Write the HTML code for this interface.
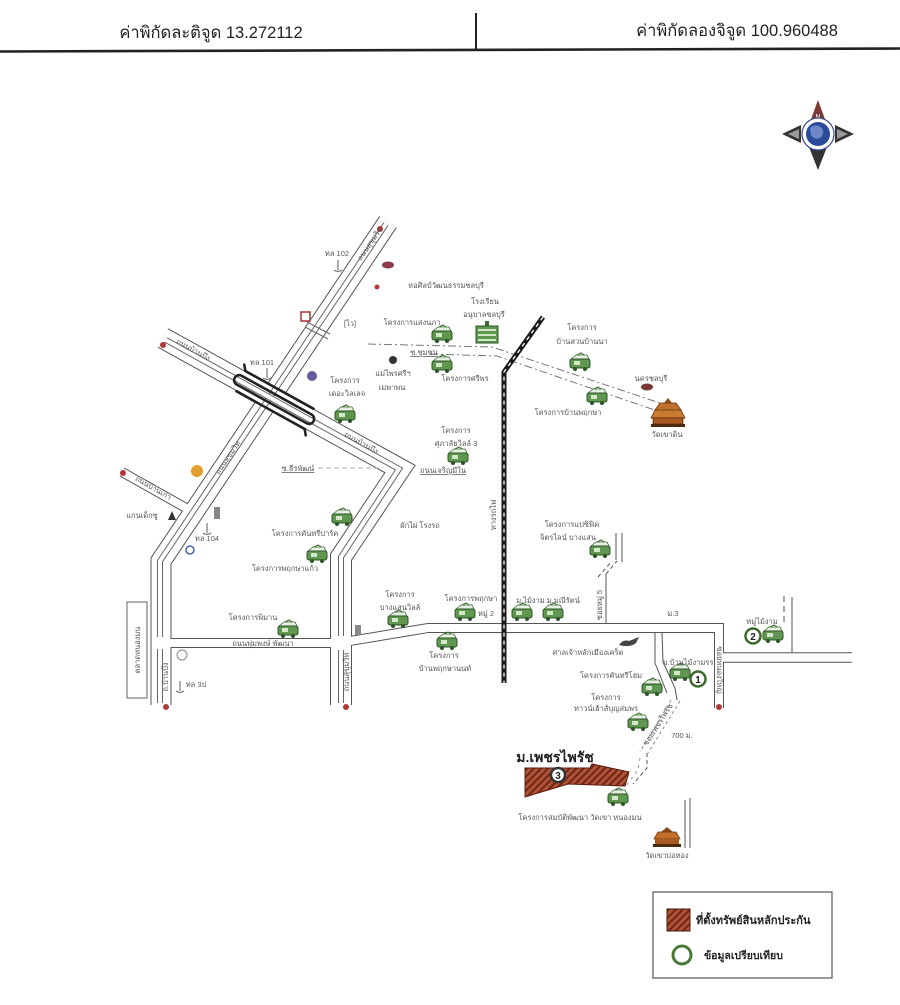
<!DOCTYPE html>
<html><head><meta charset="utf-8"><style>
html,body{margin:0;padding:0;background:#fff;}
svg{display:block;font-family:"Liberation Sans","DejaVu Sans",sans-serif;}
.t{font-size:7.5px;fill:#555;text-anchor:middle;}
.rd{fill:none;stroke-linejoin:miter;stroke-linecap:butt;}
</style></head><body>
<svg width="900" height="1005" viewBox="0 0 900 1005" xmlns="http://www.w3.org/2000/svg">
<defs>
<pattern id="hatch" patternUnits="userSpaceOnUse" width="5" height="5" patternTransform="rotate(45)">
<rect width="5" height="5" fill="#b05236"/><rect width="2" height="5" fill="#6e2616"/>
</pattern>
<g id="h">
<path d="M-5,-7 L1,-10 L6,-7" stroke="#3a6a30" stroke-width="1" fill="none"/>
<path d="M-9,-4 L-4,-8 L7,-8 L9,-4 Z" fill="#e8f0e4" stroke="#3a6a30" stroke-width="0.8"/>
<rect x="-10" y="-4" width="20" height="9" rx="2" fill="#5f9650" stroke="#2e5528" stroke-width="1"/>
<rect x="-6" y="-2" width="6" height="4" fill="#d2e6c8"/>
<circle cx="-5" cy="6" r="2" fill="#2e5528"/><circle cx="5" cy="6" r="2" fill="#2e5528"/>
</g>
</defs>
<rect width="900" height="1005" fill="#fff"/>

<!-- header -->
<text x="211" y="38" font-size="16.5" fill="#222" text-anchor="middle">ค่าพิกัดละติจูด 13.272112</text>
<text x="737" y="36" font-size="16.5" fill="#222" text-anchor="middle">ค่าพิกัดลองจิจูด 100.960488</text>
<line x1="476" y1="13" x2="476" y2="51" stroke="#222" stroke-width="2"/>
<line x1="0" y1="51.5" x2="900" y2="48.5" stroke="#222" stroke-width="2.6"/>

<!-- compass -->
<g>
<polygon points="818,100 810,122 826,122" fill="#7a3b38"/>
<text x="818" y="119" font-size="7" fill="#fff" text-anchor="middle">N</text>
<polygon points="818,170 809,147 827,147" fill="#333"/>
<polygon points="782,134 801,125 801,143" fill="#333"/>
<polygon points="788,134 799,129 799,139" fill="#999"/>
<polygon points="854,134 835,125 835,143" fill="#333"/>
<polygon points="848,134 837,129 837,139" fill="#999"/>
<circle cx="818" cy="134" r="16" fill="#fff" stroke="#3a4a8a" stroke-width="1.2"/>
<circle cx="818" cy="134" r="12" fill="#2b4c9b"/>
<path d="M810,128 q6,-5 12,0 q3,6 -2,10 q-6,2 -9,-3 z" fill="#6f88c8"/>
</g>

<!-- roads: black outer -->
<g class="rd" stroke="#555">
<polyline points="388,222 161,561 161,705" stroke-width="21"/>
<polyline points="163,338 400,469 341,557 341,705" stroke-width="22"/>
<polyline points="122,472 186,508" stroke-width="10"/>
<polyline points="161,643 341,643" stroke-width="10"/>
<polyline points="341,642.5 428,628 719,628 719,708" stroke-width="10"/>
<polyline points="719,657.5 852,657.5" stroke-width="10.5"/>
</g>
<g class="rd" stroke="#fff">
<polyline points="388,222 161,561 161,705" stroke-width="19"/>
<polyline points="163,338 400,469 341,557 341,705" stroke-width="20"/>
<polyline points="122,472 186,508" stroke-width="8"/>
<polyline points="161,643 341,643" stroke-width="8"/>
<polyline points="341,642.5 428,628 719,628 719,708" stroke-width="8"/>
<polyline points="719,657.5 852,657.5" stroke-width="8.5"/>
</g>
<!-- medians -->
<g class="rd">
<polyline points="386,224 160,561 160,637" stroke="#666" stroke-width="6"/>
<polyline points="386,224 160,561 160,637" stroke="#fff" stroke-width="4"/>
<line x1="160" y1="649" x2="160" y2="703" stroke="#666" stroke-width="6"/>
<line x1="160" y1="649" x2="160" y2="703" stroke="#fff" stroke-width="4"/>
<polyline points="166,340 399,469 341,557 341,636" stroke="#666" stroke-width="6"/>
<polyline points="166,340 399,469 341,557 341,636" stroke="#fff" stroke-width="4"/>
<line x1="341" y1="650" x2="341" y2="703" stroke="#666" stroke-width="6"/>
<line x1="341" y1="650" x2="341" y2="703" stroke="#fff" stroke-width="4"/>
</g>
<!-- small crossing ticks -->
<line x1="307" y1="322" x2="330" y2="334" stroke="#666" stroke-width="1"/>
<line x1="305" y1="327" x2="328" y2="339" stroke="#666" stroke-width="1"/>

<!-- misc thin roads -->
<g stroke="#555" stroke-width="1" fill="none">
<line x1="792" y1="597" x2="792" y2="653"/>
<line x1="784" y1="596" x2="784" y2="622" stroke-dasharray="6,4"/>
<line x1="606" y1="624" x2="606" y2="574"/>
<line x1="606" y1="574" x2="617" y2="561" stroke-dasharray="4,3"/>
<line x1="598" y1="577" x2="612" y2="561" stroke-dasharray="4,3"/>
<line x1="616" y1="533" x2="616" y2="560"/>
<line x1="622" y1="533" x2="622" y2="562"/>
<polyline points="655,632 655,663 667,693"/>
<polyline points="662,632 663,662 675,688 677,700"/>
<polyline points="671,700 640,752" stroke-dasharray="3,3" stroke="#888"/>
<polyline points="680,701 648,753" stroke-dasharray="3,3" stroke="#888"/>
<polyline points="647,753 647,768 633,784" stroke-dasharray="4,3"/>
<polyline points="640,758 638,770 626,786" stroke-dasharray="3,4" stroke="#999"/>
<line x1="685" y1="800" x2="685" y2="848"/>
<line x1="690" y1="798" x2="690" y2="848"/>
<polyline points="368,344 492,347 678,409" stroke="#777" stroke-dasharray="8,3,2,3"/>
<polyline points="430,354 497,356 672,416" stroke="#777" stroke-dasharray="8,3,2,3"/>
<line x1="318" y1="468" x2="383" y2="468" stroke="#aaa" stroke-dasharray="5,3"/>
</g>

<!-- flyover -->
<g transform="translate(275,400) rotate(29)" stroke="#222" stroke-width="2.6" fill="none" stroke-linecap="round">
<path d="M-44,-16 L-40,-11 L38,-11"/>
<rect x="-46" y="-5" width="90" height="10" rx="5"/>
<path d="M-38,11 L40,11 L44,16"/>
</g>

<!-- railway -->
<polyline points="543,317 504,372 504,683" fill="none" stroke="#1a1a1a" stroke-width="5"/>
<polyline points="543,317 504,372 504,683" fill="none" stroke="#fff" stroke-width="1.3" stroke-dasharray="4,4"/>

<!-- market box -->
<rect x="127" y="602" width="20" height="96" fill="#fff" stroke="#666" stroke-width="1"/>

<!-- markers -->
<g fill="#b03a3a">
<circle cx="380" cy="229" r="3"/><circle cx="163" cy="345" r="3"/><circle cx="123" cy="473" r="3"/>
<circle cx="166" cy="707" r="3"/><circle cx="346" cy="707" r="3"/><circle cx="719" cy="707" r="3"/>
<circle cx="377" cy="287" r="2.5"/>
</g>
<ellipse cx="388" cy="265" rx="6" ry="3.5" fill="#8b3a4a"/>
<rect x="301" y="312" width="9" height="9" fill="none" stroke="#a33" stroke-width="1.5"/>
<text x="350" y="326" class="t">[ไว]</text>
<circle cx="312" cy="376" r="5" fill="#6a5a9a"/>
<circle cx="197" cy="471" r="6" fill="#e0a030"/>
<rect x="214" y="507" width="6" height="12" fill="#888"/>
<path d="M168,520 l4,-9 l4,9 z" fill="#333"/>
<circle cx="190" cy="550" r="4" fill="none" stroke="#4466aa" stroke-width="1.5"/>
<rect x="355" y="625" width="6" height="10" fill="#888"/>
<circle cx="182" cy="655" r="5" fill="none" stroke="#888" stroke-width="1"/>
<path d="M619,645 q4,-6 10,-4 l10,-4 l-3,6 q-6,5 -17,2 z" fill="#444"/>
<ellipse cx="647" cy="387" rx="6" ry="3.5" fill="#7a3a3a"/>
<circle cx="393" cy="360" r="4" fill="#333"/>
<g stroke="#777" stroke-width="1.2" fill="none">
<path d="M338,260 v10 M334,270 q4,3 8,0"/>
<path d="M267,368 v10 M263,378 q4,3 8,0"/>
<path d="M207,523 v10 M203,533 q4,3 8,0"/>
<path d="M180,681 v10 M176,691 q4,3 8,0"/>
</g>

<!-- house icons -->
<use href="#h" x="442" y="335"/><use href="#h" x="442" y="365"/><use href="#h" x="580" y="363"/>
<use href="#h" x="597" y="397"/><use href="#h" x="345" y="415"/><use href="#h" x="458" y="457"/>
<use href="#h" x="342" y="518"/><use href="#h" x="317" y="555"/><use href="#h" x="288" y="630"/>
<use href="#h" x="398" y="620"/><use href="#h" x="465" y="613"/><use href="#h" x="447" y="642"/>
<use href="#h" x="522" y="613"/><use href="#h" x="553" y="613"/><use href="#h" x="600" y="550"/>
<use href="#h" x="652" y="688"/><use href="#h" x="680" y="673"/><use href="#h" x="638" y="723"/>
<use href="#h" x="618" y="798"/><use href="#h" x="773" y="635"/>

<!-- school -->
<g transform="translate(487,335)">
<rect x="-2" y="-14" width="4" height="5" fill="#3a6a30"/>
<rect x="-11" y="-9" width="22" height="17" fill="#5f9650" stroke="#2e5528"/>
<rect x="-9" y="-6" width="18" height="2" fill="#d2e6c8"/>
<rect x="-9" y="-1" width="18" height="2" fill="#d2e6c8"/>
<rect x="-9" y="4" width="18" height="2" fill="#d2e6c8"/>
</g>

<!-- temples -->
<g transform="translate(668,414)">
<polygon points="0,-16 -4,-11 4,-11" fill="#8a4a1a"/>
<polygon points="-8,-11 8,-11 13,-4 -13,-4" fill="#c0702a" stroke="#6a3510" stroke-width="0.8"/>
<polygon points="-13,-4 13,-4 17,4 -17,4" fill="#c87a30" stroke="#6a3510" stroke-width="0.8"/>
<rect x="-15" y="4" width="30" height="6" fill="#a85a20" stroke="#5a2a0a" stroke-width="0.8"/>
<rect x="-17" y="10" width="34" height="3" fill="#4a2a10"/>
</g>
<g transform="translate(667,837)">
<polygon points="0,-10 -6,-5 6,-5" fill="#8a4a1a"/>
<polygon points="-9,-5 9,-5 13,2 -13,2" fill="#c0702a" stroke="#6a3510" stroke-width="0.8"/>
<rect x="-12" y="2" width="24" height="5" fill="#a85a20"/>
<rect x="-14" y="7" width="28" height="3" fill="#4a2a10"/>
</g>

<!-- property -->
<polygon points="525,768 590,768 592,764 629,772 625,786 568,784 525,797" fill="url(#hatch)" stroke="#5a1a0a" stroke-width="1"/>
<circle cx="558" cy="775" r="7" fill="#fff" stroke="#333" stroke-width="2.5"/>
<text x="558" y="779" font-size="10" font-weight="bold" fill="#222" text-anchor="middle">3</text>
<text x="555" y="762" font-size="14" font-weight="bold" fill="#222" text-anchor="middle">ม.เพชรไพรัช</text>

<!-- comparison circles -->
<circle cx="698" cy="679" r="7.5" fill="#fff" stroke="#3c6a2e" stroke-width="2.5"/>
<text x="698" y="683" font-size="10" font-weight="bold" fill="#222" text-anchor="middle">1</text>
<circle cx="753" cy="636" r="7.5" fill="#fff" stroke="#3c6a2e" stroke-width="2.5"/>
<text x="753" y="640" font-size="10" font-weight="bold" fill="#222" text-anchor="middle">2</text>

<!-- labels -->
<g class="t">
<text x="337" y="256">ทล 102</text>
<text x="446" y="288">หอศิลป์วัฒนธรรมชลบุรี</text>
<text x="485" y="304">โรงเรียน</text>
<text x="484" y="317">อนุบาลชลบุรี</text>
<text x="412" y="325">โครงการแสงนภา</text>
<text x="424" y="355" text-decoration="underline">ซ.ชุมชน</text>
<text x="393" y="376">แม่ไพรศรีฯ</text>
<text x="392" y="390">เมพาพน</text>
<text x="465" y="381">โครงการศรีพร</text>
<text x="582" y="330">โครงการ</text>
<text x="582" y="344">บ้านสวนบ้านนา</text>
<text x="651" y="381">นครชลบุรี</text>
<text x="568" y="415">โครงการบ้านพฤกษา</text>
<text x="667" y="437">วัดเขาดิน</text>
<text x="456" y="433">โครงการ</text>
<text x="456" y="446">ศุภาลัยวิลล์ 3</text>
<text x="443" y="473" text-decoration="underline">ถนนเจริญมีใน</text>
<text x="262" y="365">ทล 101</text>
<text x="345" y="383">โครงการ</text>
<text x="347" y="396">เดอะวิลเลจ</text>
<text x="298" y="471" text-decoration="underline">ซ.ธีรพัฒน์</text>
<text x="142" y="518">แกนเด็กซู</text>
<text x="207" y="541">ทล 104</text>
<text x="305" y="536">โครงการคันทรีปาร์ค</text>
<text x="285" y="571">โครงการพฤกษาแก้ว</text>
<text x="253" y="620">โครงการพิมาน</text>
<text x="420" y="528">ผักไผ่ โรงรถ</text>
<text x="400" y="597">โครงการ</text>
<text x="400" y="610">บางแสนวิลล์</text>
<text x="471" y="601">โครงการพฤกษา</text>
<text x="486" y="616">หมู่ 2</text>
<text x="548" y="603">ม.ไม้งาม ม.มณีรัตน์</text>
<text x="572" y="527">โครงการแปซิฟิค</text>
<text x="568" y="540">จิตรไลน์ บางแสน</text>
<text x="444" y="658">โครงการ</text>
<text x="445" y="671">บ้านพฤกษานนท์</text>
<text x="588" y="655">ศาลเจ้าหลักเมืองเคร็ด</text>
<text x="673" y="616">ม.3</text>
<text x="762" y="624">หมู่ไม้งาม</text>
<text x="688" y="665">ม.บ้านไม้งามรร</text>
<text x="611" y="678">โครงการคันทรีโฮม</text>
<text x="606" y="700">โครงการ</text>
<text x="606" y="711">ทาวน์เฮ้าส์บุญสมพร</text>
<text x="682" y="738">700 ม.</text>
<text x="580" y="820">โครงการสมบัติพัฒนา วัดเขา หนองมน</text>
<text x="667" y="858">วัดเขาบ่อทอง</text>
<text x="196" y="687">ทล 3ป</text>
<text x="263" y="646">ถนนพุ่มพงษ์ พัฒนา</text>
<text transform="translate(372,245) rotate(-56)">ถนนสุขุมวิท</text>
<text transform="translate(230,459) rotate(-56)">ถนนสุขุมวิท</text>
<text transform="translate(192,352) rotate(29)">ถนนบ้านบึง</text>
<text transform="translate(360,445) rotate(29)">ถนนบ้านบึง</text>
<text transform="translate(152,490) rotate(30)">ถนนบ้านเก่า</text>
<text transform="translate(349,672) rotate(-90)">ถนนสุขุมวิท</text>
<text transform="translate(168,677) rotate(-90)">ถ.บ้านบึง</text>
<text transform="translate(717,670) rotate(90)">ซอยหนองใหญ่</text>
<text transform="translate(602,605) rotate(-90)">ซอยหมู่ 5</text>
<text transform="translate(496,515) rotate(-90)">ทางรถไฟ</text>
<text transform="translate(140,650) rotate(-90)">ตลาดหนองมน</text>
<text transform="translate(660,726) rotate(-57)">ซอยเพชรไพรัช</text>
</g>

<!-- legend -->
<rect x="653" y="892" width="179" height="86" fill="#fff" stroke="#555" stroke-width="1.2"/>
<rect x="667" y="909" width="23" height="22" fill="url(#hatch)" stroke="#4a1a0a" stroke-width="1"/>
<text x="696" y="924" font-size="11" font-weight="bold" fill="#222">ที่ตั้งทรัพย์สินหลักประกัน</text>
<circle cx="682" cy="955" r="9" fill="#fff" stroke="#4a7a3a" stroke-width="3"/>
<text x="704" y="959" font-size="10.5" font-weight="bold" fill="#222">ข้อมูลเปรียบเทียบ</text>
</svg>
</body></html>
